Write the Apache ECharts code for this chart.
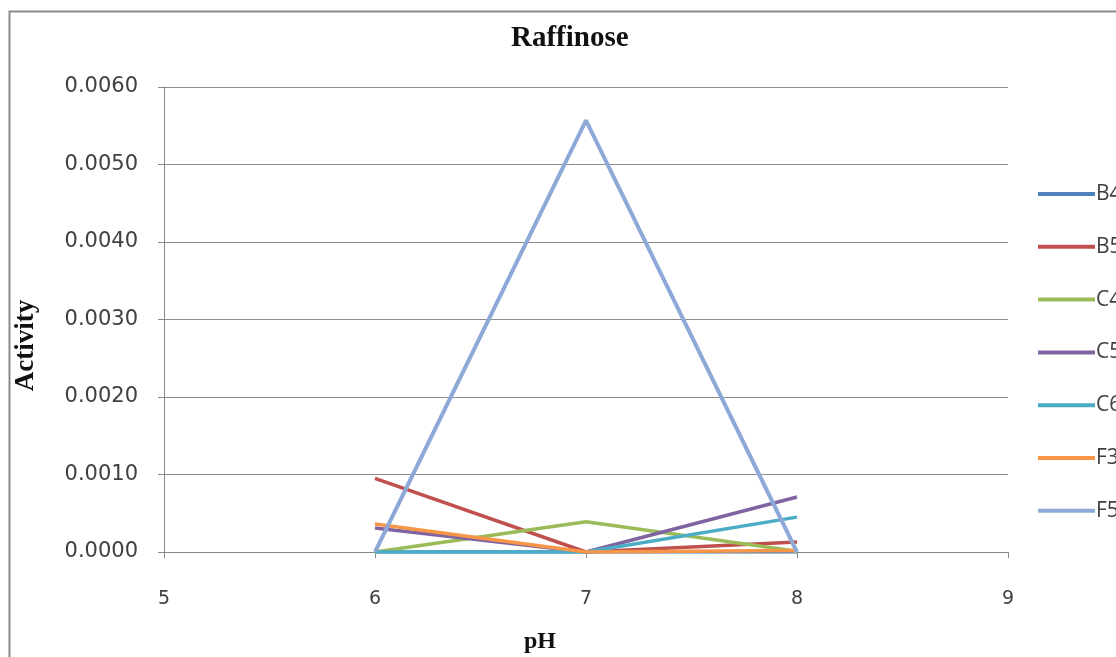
<!DOCTYPE html>
<html><head><meta charset="utf-8">
<script src="https://cdn.jsdelivr.net/npm/echarts@6/dist/echarts.min.js"></script>
<style>html,body{margin:0;padding:0;background:#fff}#c{width:1116px;height:657px}</style>
</head><body><div id="c"></div>
<script>
const pH = [6, 7, 8];
const seriesNames = ['B4','B5','C4','C5','C6','F3','F5'];
const B4 = [0.0000, 0.0000, 0.0000];
const B5 = [0.00095, 0.0000, 0.00013];
const C4 = [0.0000, 0.00039, 0.00001];
const C5 = [0.00031, 0.0000, 0.00071];
const C6 = [0.0000, 0.0000, 0.00045];
const F3 = [0.00036, 0.0000, 0.00002];
const F5 = [0.0000, 0.00557, 0.0000];
const yTicks = ['0.0000','0.0010','0.0020','0.0030','0.0040','0.0050','0.0060'];
const colors = ['#4F81BD','#C0504D','#9BBB59','#8064A2','#4BACC6','#F79646','#8EA9D8'];
const values = [B4,B5,C4,C5,C6,F3,F5];

const chart = echarts.init(document.getElementById('c'));
chart.setOption({
  animation:false,
  color: colors,
  title:{text:'Raffinose', left:506, top:19,
    textStyle:{fontFamily:'Liberation Serif', fontWeight:'bold', fontSize:29, color:'#111'}},
  graphic:[{type:'rect', left:7, top:9, shape:{width:1200,height:700},
    style:{fill:'none', stroke:'#8a8a8a', lineWidth:2}, silent:true}],
  legend:{orient:'vertical', left:1033, top:177, itemWidth:57, itemHeight:4, itemGap:28.8,
    icon:'rect', data:seriesNames,
    textStyle:{fontFamily:'Open Sans', fontSize:21, lineHeight:24, color:'#404040', padding:[0,0,0,-4]}},
  grid:{left:164, right:108, top:87, bottom:105, outerBoundsMode:'none', containLabel:false},
  xAxis:{type:'value', min:5, max:9, interval:1, name:'pH', nameLocation:'middle', nameGap:78,
    nameTextStyle:{fontFamily:'Liberation Serif', fontWeight:'bold', fontSize:24, color:'#111', padding:[0,92,0,0]},
    axisLine:{lineStyle:{color:'#888', width:1}},
    axisTick:{show:true, length:6, lineStyle:{color:'#888'}},
    axisLabel:{margin:38, fontFamily:'DejaVu Sans', fontSize:19, color:'#404040'},
    splitLine:{show:false}},
  yAxis:{type:'value', min:0, max:0.006, interval:0.001, name:'Activity', nameLocation:'middle', nameGap:124,
    nameTextStyle:{fontFamily:'Liberation Serif', fontWeight:'bold', fontSize:27, color:'#111', padding:[0,52,0,0]},
    axisLine:{show:true, lineStyle:{color:'#888', width:1}},
    axisTick:{show:true, length:6, lineStyle:{color:'#888'}},
    axisLabel:{margin:26, fontFamily:'DejaVu Sans', fontSize:21, color:'#404040',
      formatter:(v)=>yTicks[Math.round(v/0.001)]},
    splitLine:{show:true, lineStyle:{color:'#8c8c8c', width:1}}},
  series: seriesNames.map((n,i)=>({
    name:n, type:'line', symbol:'none',
    data: pH.map((x,j)=>[x, values[i][j]]),
    lineStyle:{width: i===6 ? 4 : 3.5, color:colors[i]},
    itemStyle:{color:colors[i]}
  }))
});
</script></body></html>
